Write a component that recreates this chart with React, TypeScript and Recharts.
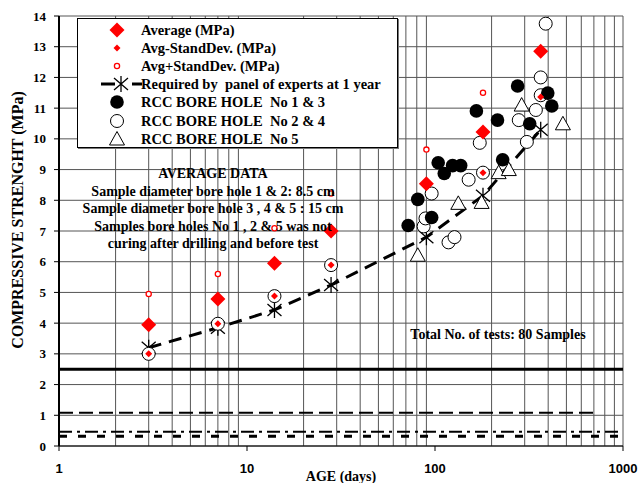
import React from 'react';
import { ComposedChart, XAxis, YAxis, CartesianGrid, Scatter, Line, ReferenceLine } from 'recharts';

// average data per test age (days)
const ages = [3, 7, 14, 28, 90, 180, 365];
const average = [3.95, 4.79, 5.95, 7.0, 8.54, 10.22, 12.85];
const minusAges = [3, 7, 14, 28, 180, 365];
const avgMinusSd = [3.0, 3.98, 4.88, 5.89, 8.9, 11.36];
const plusAges = [3, 7, 14, 28, 90, 180];
const avgPlusSd = [4.95, 5.6, 7.09, 8.22, 9.65, 11.5];
const required = [3.2, 3.85, 4.43, 5.24, 6.8, 8.15, 10.3];

// bore hole samples
const bh13Ages = [72, 81, 96, 104, 112, 124, 137, 166, 215, 229, 275, 319, 398, 418];
const bh13 = [7.18, 8.03, 7.44, 9.22, 8.87, 9.13, 9.13, 10.91, 10.61, 9.32, 11.72, 10.49, 11.49, 11.07];
const bh24Ages = [3, 7, 14, 28, 87, 89, 96, 118, 127, 151, 173, 180, 279, 308, 344, 365, 365, 388];
const bh24 = [3.0, 3.98, 4.88, 5.89, 7.15, 7.41, 8.22, 6.63, 6.8, 8.67, 9.87, 8.9, 10.61, 9.9, 10.94, 11.42, 12.0, 13.75];
const bh5Ages = [81, 133, 177, 218, 247, 289, 479];
const bh5 = [6.21, 7.9, 7.93, 8.9, 9.0, 11.1, 10.49];

const xTicks = [1, 10, 100, 1000];
const yTicks = [0, 1, 2, 3, 4, 5, 6, 7, 8, 9, 10, 11, 12, 13, 14];
const xGrid = [2, 3, 4, 5, 6, 7, 8, 9, 20, 30, 40, 50, 60, 70, 80, 90, 200, 300, 400, 500, 600, 700, 800, 900, 1000];

// horizontal limit lines
const limitSolid = 2.5;
const limitDashed = 1.08;
const limitDashDot = 0.46;
const limitShort = 0.32;

const zip = (xs: number[], ys: number[]) => xs.map((x, i) => ({ x, y: ys[i] }));

const SERIF = '"Liberation Serif", "Times New Roman", serif';

const BigDiamond = ({ cx, cy }: any) => (
  <path d={`M${cx},${cy - 7.5} L${cx + 7.5},${cy} L${cx},${cy + 7.5} L${cx - 7.5},${cy} Z`} fill="#ff0000" />
);
const SmallDiamond = ({ cx, cy }: any) => (
  <path d={`M${cx},${cy - 3.5} L${cx + 3.5},${cy} L${cx},${cy + 3.5} L${cx - 3.5},${cy} Z`} fill="#ff0000" />
);
const SmallCircle = ({ cx, cy }: any) => <circle cx={cx} cy={cy} r={2.6} fill="#fff" stroke="#ff0000" strokeWidth={1.3} />;
const FilledDot = ({ cx, cy }: any) => <circle cx={cx} cy={cy} r={6.8} fill="#000" />;
const OpenDot = ({ cx, cy }: any) => <circle cx={cx} cy={cy} r={6.5} fill="#fff" stroke="#000" strokeWidth={1} />;
const Triangle = ({ cx, cy }: any) => (
  <path d={`M${cx},${cy - 7.5} L${cx + 7.5},${cy + 6} L${cx - 7.5},${cy + 6} Z`} fill="#fff" stroke="#000" strokeWidth={1} />
);
const Star = ({ cx, cy }: any) => (
  <g stroke="#000" strokeWidth={1.3} fill="none">
    <path d={`M${cx - 7},${cy - 6} L${cx + 7},${cy + 6} M${cx - 7},${cy + 6} L${cx + 7},${cy - 6} M${cx},${cy - 8} L${cx},${cy + 8}`} />
  </g>
);

const legendRows = [
  { label: 'Average (MPa)', icon: <BigDiamond cx={12} cy={9} /> },
  { label: 'Avg-StandDev. (MPa)', icon: <SmallDiamond cx={12} cy={9} /> },
  { label: 'Avg+StandDev. (MPa)', icon: <SmallCircle cx={12} cy={9} /> },
  {
    label: 'Required by  panel of experts at 1 year',
    icon: (
      <g>
        <line x1={-4} y1={9} x2={10} y2={9} stroke="#000" strokeWidth={3} />
        <line x1={27} y1={9} x2={37} y2={9} stroke="#000" strokeWidth={3} />
        <Star cx={16} cy={9} />
      </g>
    ),
  },
  { label: 'RCC BORE HOLE  No 1 & 3', icon: <FilledDot cx={12} cy={9} /> },
  { label: 'RCC BORE HOLE  No 2 & 4', icon: <OpenDot cx={12} cy={9} /> },
  { label: 'RCC BORE HOLE  No 5', icon: <Triangle cx={12} cy={9} /> },
];

export default function App() {
  const bold = { fontFamily: SERIF, fontWeight: 700, fontSize: 14, color: '#000', whiteSpace: 'pre' as const };
  return (
    <div style={{ position: 'absolute', left: 0, top: 0, width: 638, height: 483, background: '#fff', overflow: 'hidden' }}>
      <ComposedChart width={638} height={483} margin={{ top: 16, right: 15, bottom: 0, left: 0 }}>
        <CartesianGrid vertical={false} stroke="#555" strokeWidth={1} />
        <XAxis
          type="number"
          dataKey="x"
          scale="log"
          domain={[1, 1000]}
          ticks={xTicks}
          allowDataOverflow
          height={37}
          tickSize={5}
          tickMargin={13}
          stroke="#000"
          tick={{ fontFamily: 'Liberation Sans, Arial, sans-serif', fontWeight: 700, fontSize: 13, fill: '#000' }}
        />
        <YAxis
          type="number"
          dataKey="y"
          domain={[0, 14]}
          ticks={yTicks}
          width={59}
          tickSize={5}
          tickMargin={8}
          interval={0}
          axisLine={{ stroke: '#000', strokeWidth: 2 }}
          tickLine={{ stroke: '#000' }}
          tick={{ fontFamily: 'Liberation Serif, Times New Roman, serif', fontWeight: 700, fontSize: 13, fill: '#000' }}
        />
        {xGrid.map((v) => (
          <ReferenceLine key={v} x={v} stroke="#555" strokeWidth={1} />
        ))}
        <ReferenceLine y={limitSolid} stroke="#000" strokeWidth={3} />
        <ReferenceLine segment={[{ x: 1, y: limitDashed }, { x: 710, y: limitDashed }]} stroke="#000" strokeWidth={2} strokeDasharray="14 6" />
        <ReferenceLine y={limitDashDot} stroke="#000" strokeWidth={2} strokeDasharray="13 5 3 5" />
        <ReferenceLine y={limitShort} stroke="#000" strokeWidth={3} strokeDasharray="8 11" />
        <Line
          data={zip(ages, required)}
          dataKey="y"
          stroke="#000"
          strokeWidth={3}
          strokeDasharray="13 8"
          dot={(p: any) => <Star key={p.index} cx={p.cx} cy={p.cy} />}
          activeDot={false}
          isAnimationActive={false}
        />
        <Scatter data={zip(bh24Ages, bh24)} dataKey="y" shape={OpenDot} isAnimationActive={false} />
        <Scatter data={zip(bh13Ages, bh13)} dataKey="y" shape={FilledDot} isAnimationActive={false} />
        <Scatter data={zip(bh5Ages, bh5)} dataKey="y" shape={Triangle} isAnimationActive={false} />
        <Scatter data={zip(ages, average)} dataKey="y" shape={BigDiamond} isAnimationActive={false} />
        <Scatter data={zip(minusAges, avgMinusSd)} dataKey="y" shape={SmallDiamond} isAnimationActive={false} />
        <Scatter data={zip(plusAges, avgPlusSd)} dataKey="y" shape={SmallCircle} isAnimationActive={false} />
      </ComposedChart>

      {/* legend box */}
      <div style={{ position: 'absolute', left: 77, top: 18, width: 319, height: 128, border: '1px solid #000', background: '#fff', boxShadow: '1px 1px 0 #777' }}>
        {legendRows.map((r, i) => (
          <div key={i} style={{ position: 'absolute', left: 0, top: 2 + i * 18.1, height: 18, width: 319 }}>
            <svg width={50} height={18} style={{ position: 'absolute', left: 27, top: 0, overflow: 'visible' }}>
              {r.icon}
            </svg>
            <div style={{ ...bold, fontSize: 14.5, position: 'absolute', left: 63, top: 0, lineHeight: '18px' }}>{r.label}</div>
          </div>
        ))}
      </div>

      {/* average data note */}
      <div style={{ ...bold, position: 'absolute', left: 213, top: 165, transform: 'translateX(-50%)', textAlign: 'center', lineHeight: '17.5px' }}>
        {'AVERAGE DATA\nSample diameter bore hole 1 & 2: 8.5 cm\nSample diameter bore hole 3 , 4 & 5 : 15 cm\nSamples bore holes No 1 , 2 & 5 was not\ncuring after drilling and before test'}
      </div>

      <div style={{ ...bold, position: 'absolute', left: 498, top: 326, transform: 'translateX(-50%)', lineHeight: '18px' }}>
        Total No. of tests: 80 Samples
      </div>

      {/* axis titles */}
      <div style={{ ...bold, position: 'absolute', left: 341, top: 469, transform: 'translateX(-50%)', lineHeight: '16px' }}>AGE (days)</div>
      <div style={{ ...bold, fontSize: 16, position: 'absolute', left: 18, top: 220, transform: 'translate(-50%, -50%) rotate(-90deg)', lineHeight: '16px' }}>
        COMPRESSIVE STRENGHT (MPa)
      </div>
    </div>
  );
}
